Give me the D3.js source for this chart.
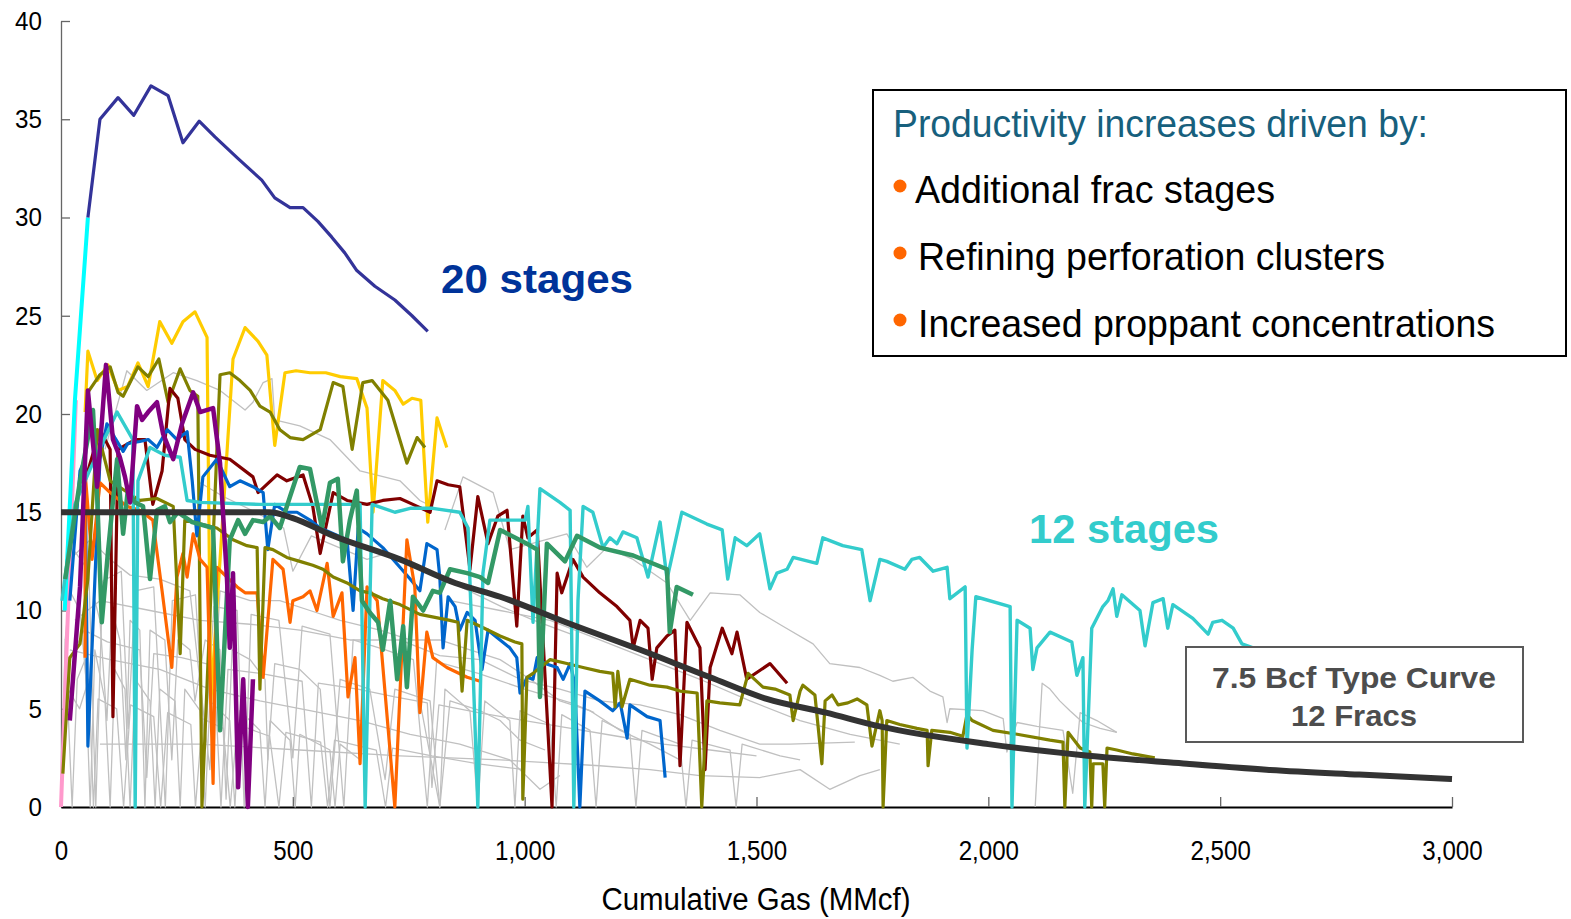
<!DOCTYPE html>
<html>
<head>
<meta charset="utf-8">
<script src="https://d3js.org/d3.v7.min.js"></script>
<style>
  body { margin: 0; background: #ffffff; }
  #chart .font { font-family: "Liberation Sans", Arial, sans-serif; }
  #chart .axis text { font-family: "Liberation Sans", Arial, sans-serif; fill: #000000; }
  #chart .series { fill: none; stroke-linejoin: round; stroke-linecap: butt; }
</style>
</head>
<body>
<script>
// ---- chart values (cumulative gas MMcf, rate) ----
const X_TICKS = [0, 500, 1000, 1500, 2000, 2500, 3000];
const Y_TICKS = [0, 5, 10, 15, 20, 25, 30, 35, 40];

const TYPE_CURVE = [[0,15],[450,15],[500,14.7],[587,13.8],[731,12.6],[850,11.4],[947,10.7],[1100,9.3],[1249,8.0],[1400,6.6],[1522,5.5],[1650,4.8],[1766,4.1],[2000,3.2],[2200,2.65],[2428,2.2],[2600,1.9],[2800,1.65],[3000,1.42]];

const NAVY = [[58,30.0],[84,35.0],[123,36.1],[157,35.2],[194,36.7],[231,36.2],[263,33.8],[298,34.9],[332,34.1],[382,33.0],[433,31.9],[461,31.0],[494,30.5],[522,30.5],[554,29.8],[584,29.0],[612,28.2],[638,27.3],[677,26.5],[720,25.8],[757,25.0],[791,24.2]];
const CYAN = [[8,10],[30,20.7],[58,30]];
const PINK = [[0,0],[12,8],[32,20.7]];

const YELLOW = [[52,20.1],[58,23.2],[78,21.7],[101,22.5],[123,21.2],[144,21.4],[166,22.6],[188,21.4],[213,24.7],[239,23.6],[263,24.7],[289,25.2],[315,23.9],[323,5.3],[371,22.8],[397,24.4],[425,23.7],[444,23.0],[461,18.4],[483,22.1],[507,22.2],[537,22.1],[571,22.1],[602,21.9],[638,21.8],[660,20.3],[673,15.0],[694,21.7],[720,21.2],[738,20.5],[757,20.8],[776,20.7],[791,14.5],[811,19.8],[832,18.3]];

const OLIVE_UPPER = [[58,21.1],[84,22.0],[106,22.4],[123,21.1],[134,20.9],[166,22.4],[188,21.9],[211,22.8],[231,20.6],[257,22.3],[278,21.2],[295,20.9],[304,0],[343,22.0],[364,22.1],[386,21.7],[408,21.2],[429,20.4],[451,20.1],[472,19.2],[494,18.8],[522,18.7],[559,19.2],[587,21.6],[608,21.4],[628,18.2],[651,21.6],[671,21.7],[705,20.7],[746,17.5],[768,18.8],[785,18.3]];

const MAROON = [[52,16.6],[84,19.2],[106,18.2],[112,4.6],[123,18.2],[160,18.7],[181,18.7],[198,15.4],[218,17.1],[235,21.3],[252,20.8],[267,18.7],[289,18.2],[321,17.9],[364,17.7],[414,16.8],[425,16.0],[466,16.9],[487,16.6],[522,16.9],[543,15.3],[559,12.9],[587,16.0],[617,15.6],[660,15.4],[694,15.6],[731,15.7],[759,15.4],[796,15.0],[811,16.6],[835,16.4],[860,16.3],[882,12.1],[899,15.8],[921,13.4],[942,14.8],[962,15.1],[983,9.2],[996,14.8],[1007,13.7],[1027,14.1],[1059,0],[1070,11.9],[1080,10.9],[1104,12.6],[1126,11.7],[1162,10.9],[1199,10.2],[1227,9.5],[1234,8.1],[1249,9.5],[1266,9.1],[1275,6.5],[1285,8.1],[1307,8.7],[1324,9.0],[1335,2.1],[1350,9.4],[1378,8.1],[1389,1.9],[1400,7.1],[1426,9.1],[1447,7.8],[1458,8.9],[1479,6.5],[1529,7.3],[1566,6.3]];

const BLUE = [[19,10.5],[41,17.1],[52,17.7],[58,3.1],[84,17.7],[99,19.5],[116,18.8],[134,18.1],[144,18.5],[170,18.6],[188,18.7],[207,18.3],[229,19.2],[250,18.7],[272,19.1],[283,16.6],[293,13.8],[306,16.8],[336,17.7],[364,16.3],[386,16.6],[414,16.3],[436,16.0],[446,13.1],[461,15.4],[487,15.0],[509,15.0],[537,14.6],[559,14.2],[617,13.6],[630,10.0],[641,14.2],[660,13.9],[694,13.2],[731,12.2],[753,11.6],[774,11.0],[789,13.4],[811,13.1],[817,11.7],[824,8.1],[835,10.7],[850,10.2],[860,9.0],[876,9.9],[893,9.5],[908,7.0],[921,9.0],[947,8.5],[968,8.1],[983,7.6],[990,5.8],[1005,6.6],[1018,6.5],[1027,7.6],[1044,7.3],[1070,7.1],[1083,6.5],[1098,7.3],[1108,6.3],[1119,0],[1130,5.9],[1162,5.4],[1190,4.9],[1206,5.3],[1221,3.5],[1227,5.2],[1264,4.6],[1292,4.4],[1303,1.5]];

const GREEN = [[9,11.6],[41,16.6],[69,20.2],[78,15.8],[88,9.4],[101,12.9],[121,17.7],[134,13.9],[144,16.1],[160,15.5],[177,15.3],[192,11.6],[207,15.1],[224,15.3],[235,14.5],[252,15.0],[283,14.5],[328,14.2],[343,3.9],[364,13.6],[382,14.6],[397,13.9],[414,14.6],[436,14.5],[451,14.8],[472,14.2],[494,15.8],[515,17.3],[537,17.2],[563,14.2],[580,16.5],[597,16.7],[608,12.5],[623,14.6],[638,16.1],[649,10.5],[666,9.9],[684,9.4],[694,8.0],[710,10.5],[725,6.5],[738,9.2],[746,6.1],[759,10.7],[781,10.0],[802,11.0],[817,10.9],[839,12.1],[876,11.9],[904,11.7],[921,11.4],[947,14.1],[1005,13.4],[1027,13.1],[1033,5.6],[1048,13.4],[1087,12.5],[1113,13.8],[1162,13.2],[1234,12.8],[1307,12.1],[1313,8.9],[1328,11.2],[1363,10.8]];

const PURPLE = [[19,4.4],[41,11.2],[58,21.2],[78,16.3],[97,22.5],[112,18.7],[127,17.8],[138,16.8],[149,15.5],[164,20.4],[175,19.7],[188,20.1],[207,20.6],[220,19.0],[242,17.7],[261,19.5],[285,21.1],[300,20.1],[328,20.3],[343,17.5],[358,11.6],[364,8.1],[371,11.9],[382,1.0],[393,6.5],[403,0],[414,6.5]];

const ORANGE = [[52,7.6],[52,17.0],[67,12.6],[84,16.5],[106,16.0],[127,15.6],[142,15.3],[170,15.1],[198,14.6],[218,11.0],[239,7.1],[250,11.7],[263,12.9],[272,11.7],[285,13.9],[300,12.6],[315,12.2],[328,1.2],[336,12.2],[358,11.7],[380,11.2],[397,10.9],[423,10.9],[436,6.6],[457,12.6],[479,12.1],[494,9.4],[500,10.5],[522,10.7],[537,11.0],[552,10.0],[574,12.4],[587,9.7],[606,10.9],[619,5.6],[634,7.6],[645,2.2],[660,11.2],[682,10.5],[720,0],[746,13.6],[763,11.2],[774,4.8],[789,8.9],[802,7.6],[832,7.1],[876,6.6],[904,6.4]];

const OLIVE_LOWER = [[4,1.7],[19,7.6],[41,8.3],[58,11.6],[78,19.2],[106,16.6],[170,15.6],[207,15.7],[242,15.3],[257,7.8],[267,14.6],[336,14.2],[371,13.6],[401,13.3],[423,13.2],[429,6.0],[440,13.2],[457,13.1],[487,12.7],[515,12.5],[543,12.3],[565,12.1],[587,11.7],[617,11.4],[645,11.0],[666,10.9],[694,10.6],[731,10.3],[774,9.8],[839,9.5],[856,9.4],[865,5.9],[876,9.5],[904,9.2],[947,8.7],[979,8.4],[994,8.3],[996,0.4],[1005,6.6],[1018,6.8],[1033,7.1],[1055,7.5],[1091,7.3],[1126,7.1],[1162,6.9],[1190,6.8],[1195,5.1],[1201,6.9],[1210,5.1],[1227,6.5],[1270,6.2],[1307,6.1],[1335,5.9],[1372,5.8],[1382,0],[1393,5.4],[1421,5.3],[1464,5.2],[1482,6.8],[1514,6.1],[1540,6.0],[1572,5.7],[1579,4.4],[1594,5.9],[1600,6.2],[1626,5.7],[1641,2.2],[1648,5.4],[1663,5.7],[1676,5.2],[1697,5.3],[1717,5.5],[1738,5.2],[1749,3.1],[1766,4.9],[1771,4.4],[1773,0],[1781,4.4],[1809,4.2],[1846,4.0],[1868,3.9],[1870,2.1],[1878,3.9],[1917,3.8],[1945,3.6],[1954,4.7],[1965,4.4],[2010,3.9],[2062,3.7],[2133,3.4],[2161,3.3],[2165,0],[2172,3.8],[2198,3.0],[2219,2.8],[2223,0],[2226,2.2],[2247,2.2],[2251,0],[2256,3.0],[2277,2.9],[2312,2.7],[2359,2.5]];

const TURQUOISE = [[2,10.5],[30,15.4],[63,17.2],[121,20.1],[155,18.7],[160,0],[166,16.6],[192,18.3],[224,17.9],[257,17.8],[272,15.6],[300,15.5],[429,15.4],[515,15.4],[645,15.4],[656,0],[671,15.4],[720,15.0],[753,15.2],[802,15.2],[860,15.0],[878,14.2],[899,0],[910,11.9],[925,14.6],[1001,14.6],[1007,15.3],[1018,9.4],[1033,16.2],[1076,15.5],[1098,15.1],[1106,0],[1115,10.5],[1126,15.3],[1147,15.0],[1169,13.2],[1184,13.7],[1199,13.4],[1212,14.0],[1242,13.7],[1266,11.7],[1292,14.5],[1307,11.6],[1339,15.0],[1393,14.4],[1426,14.1],[1438,11.6],[1454,13.7],[1479,13.3],[1507,13.9],[1529,11.1],[1544,11.9],[1566,12.1],[1579,12.7],[1630,12.4],[1643,13.7],[1686,13.3],[1727,13.1],[1745,10.5],[1766,12.6],[1781,12.5],[1820,12.1],[1835,12.6],[1852,12.7],[1881,12.0],[1911,12.2],[1917,10.6],[1950,11.2],[1954,3.0],[1965,8.0],[1973,10.7],[2047,10.2],[2051,0],[2062,9.5],[2090,9.1],[2096,7.0],[2105,8.1],[2133,8.9],[2180,8.4],[2191,6.7],[2204,7.6],[2208,0],[2223,9.1],[2247,10.2],[2258,10.5],[2269,11.1],[2277,9.7],[2288,10.8],[2327,10.0],[2338,8.2],[2355,10.4],[2377,10.6],[2387,9.1],[2398,10.3],[2441,9.6],[2474,8.8],[2484,9.4],[2504,9.5],[2528,9.1],[2547,8.3],[2571,8.1]];

// background wells (grey)
const GRAY_1 = [[828,14.1],[867,16.8],[932,16.0],[968,13.1],[1091,13.9],[1134,12.2],[1177,13.2],[1234,12.6],[1307,11.4],[1357,9.5],[1400,10.9],[1464,10.8],[1507,9.9],[1557,9.2],[1622,8.3],[1658,7.3],[1723,7.1],[1766,6.7],[1794,6.4],[1837,6.6],[1874,5.9],[1902,5.6],[1911,4.3],[1917,5.0],[1988,4.9],[2032,4.5],[2040,2.8],[2062,4.3],[2105,4.1],[2161,3.9],[2182,0.7],[2198,4.8],[2234,4.4],[2277,3.8]];
const GRAY_2 = [[95,18.2],[142,22.2],[185,21.2],[242,22.1],[293,21.7],[343,21.2],[397,20.2],[414,20.6],[436,21.6],[455,21.8],[461,19.7],[515,19.4],[580,18.7],[645,17.1],[731,16.6],[774,15.6],[817,15.1]];
const GRAY_3 = [[30,9.5],[84,10.5],[192,10.0],[300,9.5],[408,9.3],[515,9.0],[623,8.5],[731,8.5],[817,7.7],[904,7.5],[990,6.5],[1076,6.0],[1162,5.4],[1249,5.2],[1335,4.7],[1421,3.9],[1507,3.2],[1572,3.2],[1712,3.3]];
const GRAY_4 = [[19,8.0],[106,7.5],[213,7.0],[321,6.0],[429,5.4],[537,4.9],[645,4.4],[753,3.7],[860,3.2],[968,2.4],[1033,0.9],[1076,1.6]];
const GRAY_5 = [[0,0],[9,8.5],[24,0],[35,6.5],[52,7.5],[63,0],[73,8.0],[95,5.4],[106,0],[116,7.0],[138,6.0],[149,0],[160,6.5],[192,5.4],[203,0],[213,6.0],[246,5.4],[257,0],[267,6.0],[300,4.9],[311,0],[321,5.4],[364,4.4],[375,0],[386,4.9],[429,3.9],[440,0],[451,4.4],[494,3.4],[505,0],[515,3.7],[580,2.9],[591,0],[602,3.2],[645,2.4]];
const GRAY_6 = [[9,8.5],[19,11.0],[41,10.0],[58,5.4],[73,10.5],[84,9.5],[99,4.4],[110,10.0],[127,8.5],[140,2.4],[149,9.5],[170,9.0],[181,0],[192,9.0],[224,8.5],[239,2.4],[252,8.5],[278,8.0],[289,5.4],[311,8.5],[343,8.0],[356,0.4],[369,8.0],[408,7.5],[440,6.5],[446,2.4],[461,7.3],[515,7.0],[559,6.0],[580,0],[602,6.5],[666,6.0],[699,1.4],[720,6.0],[796,5.4],[817,0],[839,5.4],[904,4.9],[947,4.4],[990,3.4],[1044,2.9]];
const GRAY_7 = [[19,12.6],[63,13.6],[106,12.6],[149,11.8],[213,11.6],[278,11.0],[321,1.9],[343,11.0],[408,10.5],[472,10.5],[537,10.0],[602,9.5],[688,9.0],[753,8.5],[817,8.5],[882,8.0],[947,7.5],[1012,6.5],[1076,5.4],[1141,4.9],[1206,3.9],[1270,3.2],[1335,2.4]];
const GRAY_8 = [[84,3.2],[300,3.2],[515,2.9],[731,2.6],[947,2.4],[1162,2.1],[1270,1.9],[1378,1.6],[1507,1.5],[1594,1.9],[1658,0.9],[1723,1.6],[1766,1.9]];
const GRAY_9 = [[774,5.4],[817,0],[828,6.0],[882,4.9],[899,0],[914,5.4],[968,4.4],[979,0],[990,4.9],[1055,4.2],[1068,0],[1080,4.7],[1141,3.9],[1154,0],[1167,4.4],[1227,3.7],[1240,0],[1253,3.9],[1335,3.2],[1348,0],[1361,3.4],[1443,2.9],[1456,0],[1469,3.2],[1551,2.6],[1594,2.4]];
const GRAY_10 = [[839,10.5],[947,10.0],[1055,9.5],[1162,8.5],[1270,7.5],[1378,6.5],[1486,5.4],[1594,4.4],[1702,3.7],[1809,3.2]];
const GRAY_11 = [[2101,0],[2116,6.3],[2133,6.0],[2154,5.4],[2176,4.9],[2204,4.3],[2241,4.0],[2277,3.8]];
const GRAY_12 = [[15,6.0],[40,5.0],[60,6.5],[70,0],[80,5.5],[120,5.0],[135,0],[150,5.2],[200,4.6],[215,0],[230,4.8],[280,4.2],[290,0],[305,4.5],[350,4.0],[365,0],[380,4.2],[450,3.6],[470,0],[485,3.8],[560,3.3],[575,0],[590,3.4],[680,2.9],[700,0],[715,3.0],[800,2.6],[900,2.2],[1000,1.9]];
const GRAY_13 = [[30,13.0],[60,12.0],[75,0],[90,11.5],[130,12.0],[145,4.0],[160,11.0],[200,11.2],[225,0],[240,10.5],[290,10.8],[310,3.0],[330,10.2],[380,10.0],[395,0],[410,9.8],[470,9.5],[500,2.5],[520,9.2],[580,8.8],[610,0],[630,8.5],[700,8.0],[760,7.5],[790,0],[810,7.4],[900,6.8],[1000,6.0],[1100,5.3],[1150,4.8]];
const GRAY_14 = [[10,7.0],[50,9.0],[100,8.4],[170,8.0],[185,1.5],[200,7.8],[260,7.6],[330,7.2],[345,0],[360,7.0],[430,6.8],[520,6.4],[540,0],[555,6.3],[640,6.0],[720,5.6],[790,5.3],[800,1.0],[815,5.2],[900,4.8],[1000,4.4],[1100,4.0],[1200,3.6],[1300,3.2],[1400,2.9],[1500,2.6]];
const GRAY_15 = [[300,16.5],[350,15.8],[420,15.0],[480,14.2],[500,12.0],[540,13.8],[600,13.2],[660,12.6],[700,12.9],[760,12.3],[820,11.7],[880,11.0],[950,10.2],[1020,9.5],[1100,8.8]];

// ---- layout ----
const SVG_WIDTH = 1571;
const SVG_HEIGHT = 919;
const PLOT_LEFT = 61;
const PLOT_RIGHT = 1452;
const PLOT_TOP = 21;
const PLOT_BOTTOM = 807;

const GRAY = "#c0c0c0";
const GRAY_SERIES = [GRAY_1, GRAY_2, GRAY_3, GRAY_4, GRAY_5, GRAY_6, GRAY_7, GRAY_8,
    GRAY_9, GRAY_10, GRAY_11, GRAY_12, GRAY_13, GRAY_14, GRAY_15];
const SERIES = GRAY_SERIES.map(function(g) {
    return { data: g, color: GRAY, width: 1.3 };
}).concat([
    { data: PINK, color: "#ff99cc", width: 4 },
    { data: CYAN, color: "#00ffff", width: 4 },
    { data: NAVY, color: "#333399", width: 3.2 },
    { data: YELLOW, color: "#ffcc00", width: 3.2 },
    { data: OLIVE_UPPER, color: "#808000", width: 3.2 },
    { data: MAROON, color: "#800000", width: 3.2 },
    { data: BLUE, color: "#0066cc", width: 3.2 },
    { data: ORANGE, color: "#ff6600", width: 3.2 },
    { data: OLIVE_LOWER, color: "#808000", width: 3.2 },
    { data: TURQUOISE, color: "#33cccc", width: 3.4 },
    { data: GREEN, color: "#339966", width: 4.5 },
    { data: TYPE_CURVE, color: "#333333", width: 6, smooth: true },
    { data: PURPLE, color: "#800080", width: 4.5 }
]);

var svg = d3.select("body").append("svg")
    .attr("id", "chart")
    .attr("width", SVG_WIDTH)
    .attr("height", SVG_HEIGHT);

var xScale = d3.scaleLinear().domain([0, 3000]).range([PLOT_LEFT, PLOT_RIGHT]);
var yScale = d3.scaleLinear().domain([0, 40]).range([PLOT_BOTTOM, PLOT_TOP]);

function narrow(sel, k) {
    sel.each(function() {
        var w = this.getComputedTextLength();
        this.setAttribute("textLength", w * k);
        this.setAttribute("lengthAdjust", "spacingAndGlyphs");
    });
}

// axes
var yAxis = svg.append("g")
    .attr("class", "axis")
    .attr("transform", "translate(" + PLOT_LEFT + ",0)")
    .call(d3.axisLeft(yScale).tickValues(Y_TICKS).tickSizeInner(-9).tickSizeOuter(0).tickPadding(19));
yAxis.selectAll("path, line").attr("stroke", "#666666").attr("stroke-width", 1.3);
yAxis.selectAll("text").attr("font-size", "26px").call(narrow, 0.93);

var xAxis = svg.append("g")
    .attr("class", "axis")
    .attr("transform", "translate(0," + PLOT_BOTTOM + ")")
    .call(d3.axisBottom(xScale).tickValues(X_TICKS).tickFormat(d3.format(",")).tickSizeInner(-10).tickSizeOuter(0).tickPadding(33));
xAxis.select("path").attr("stroke", "#000000").attr("stroke-width", 2);
xAxis.selectAll("line").attr("stroke", "#666666").attr("stroke-width", 1.3);
xAxis.selectAll("text").attr("font-size", "28px").call(narrow, 0.86);

svg.append("text")
    .attr("class", "font")
    .attr("x", 756)
    .attr("y", 910)
    .attr("text-anchor", "middle")
    .attr("font-size", "31px")
    .attr("textLength", 309)
    .attr("lengthAdjust", "spacingAndGlyphs")
    .text("Cumulative Gas (MMcf)");

// series
var line = d3.line()
    .x(function(d) { return xScale(d[0]); })
    .y(function(d) { return yScale(d[1]); });
var smoothLine = d3.line()
    .curve(d3.curveMonotoneX)
    .x(function(d) { return xScale(d[0]); })
    .y(function(d) { return yScale(d[1]); });

svg.append("g").selectAll("path")
    .data(SERIES)
    .enter()
    .append("path")
    .attr("class", "series")
    .attr("d", function(d) { return d.smooth ? smoothLine(d.data) : line(d.data); })
    .attr("stroke", function(d) { return d.color; })
    .attr("stroke-width", function(d) { return d.width; });

// annotations
svg.append("text")
    .attr("class", "font")
    .attr("x", 441).attr("y", 293)
    .attr("font-size", "41px").attr("font-weight", "bold")
    .attr("fill", "#003399")
    .attr("textLength", 192).attr("lengthAdjust", "spacingAndGlyphs")
    .text("20 stages");

svg.append("text")
    .attr("class", "font")
    .attr("x", 1029).attr("y", 543)
    .attr("font-size", "41px").attr("font-weight", "bold")
    .attr("fill", "#33cccc")
    .attr("textLength", 190).attr("lengthAdjust", "spacingAndGlyphs")
    .text("12 stages");

// type curve box
svg.append("rect")
    .attr("x", 1186).attr("y", 647)
    .attr("width", 337).attr("height", 95)
    .attr("fill", "#ffffff")
    .attr("stroke", "#595959").attr("stroke-width", 2);
svg.append("text")
    .attr("class", "font")
    .attr("x", 1354).attr("y", 688)
    .attr("text-anchor", "middle")
    .attr("font-size", "30px").attr("font-weight", "bold")
    .attr("fill", "#4d4d4d")
    .attr("textLength", 284).attr("lengthAdjust", "spacingAndGlyphs")
    .text("7.5 Bcf Type Curve");
svg.append("text")
    .attr("class", "font")
    .attr("x", 1354).attr("y", 726)
    .attr("text-anchor", "middle")
    .attr("font-size", "30px").attr("font-weight", "bold")
    .attr("fill", "#4d4d4d")
    .attr("textLength", 126).attr("lengthAdjust", "spacingAndGlyphs")
    .text("12 Fracs");

// drivers box
const DRIVERS_TITLE = "Productivity increases driven by:";
const DRIVERS = ["Additional frac stages", "Refining perforation clusters", "Increased proppant concentrations"];
const DRIVER_WIDTHS = [360, 467, 577];

svg.append("rect")
    .attr("x", 873).attr("y", 90)
    .attr("width", 693).attr("height", 266)
    .attr("fill", "#ffffff")
    .attr("stroke", "#000000").attr("stroke-width", 2);
svg.append("text")
    .attr("class", "font")
    .attr("x", 893).attr("y", 137)
    .attr("font-size", "39px")
    .attr("fill", "#17607d")
    .attr("textLength", 535).attr("lengthAdjust", "spacingAndGlyphs")
    .text(DRIVERS_TITLE);

var driverRows = svg.append("g").selectAll("g")
    .data(DRIVERS)
    .enter()
    .append("g")
    .attr("transform", function(d, i) { return "translate(0," + (203 + i * 67) + ")"; });
driverRows.append("circle")
    .attr("cx", 900).attr("cy", -17).attr("r", 6.5)
    .attr("fill", "#ff6600");
driverRows.append("text")
    .attr("class", "font")
    .attr("x", function(d, i) { return i === 0 ? 915 : 918; })
    .attr("y", 0)
    .attr("font-size", "39px")
    .attr("fill", "#000000")
    .attr("textLength", function(d, i) { return DRIVER_WIDTHS[i]; })
    .attr("lengthAdjust", "spacingAndGlyphs")
    .text(function(d) { return d; });
</script>
</body>
</html>
